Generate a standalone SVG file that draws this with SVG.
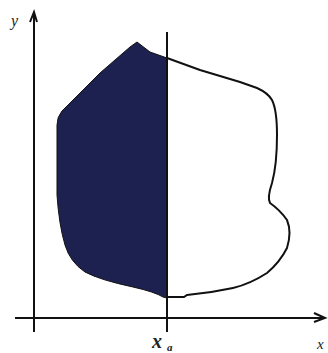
<svg xmlns="http://www.w3.org/2000/svg" width="328" height="353" viewBox="0 0 328 353">
<style>
.ax{stroke:#111;stroke-width:2;fill:none}
.lbl{font-family:"Liberation Serif",serif;font-style:italic;fill:#222}
</style>
<rect width="328" height="353" fill="#fff"/>
<g id="region-white">
<path d="M167,58 L200,70 L240,82 L257,88 Q268,93 272,100 Q277,110 277,135 Q277,165 272,183 Q267,198 270,203 Q280,210 287,220 Q292,232 287,248 Q280,262 267,273 Q250,284 233,288 Q210,293 187,295 L184,297 L167,297" fill="#fff" stroke="#111" stroke-width="2"/>
</g>
<g id="region-shaded">
<path d="M167,58 L150,52 L137,42 L130,47 L100,73 L73,100 L62,111 Q57,117 57,125 L57,195 Q59,225 65,245 Q70,262 85,272 Q100,280 133,287 Q155,292 163,297 L167,298 Z" fill="#1c2150" stroke="#111" stroke-width="1"/>
</g>
<g id="axes">
<line class="ax" x1="34" y1="12" x2="34" y2="332"/>
<path class="ax" d="M30,22 L34,12 L37,22" stroke-width="1.5"/>
<line class="ax" x1="15" y1="318" x2="324" y2="318"/>
<path class="ax" d="M314,313 L325,318 L314,322" stroke-width="1.5"/>
<line class="ax" x1="167" y1="32" x2="167" y2="332"/>
</g>
<g id="labels">
<text class="lbl" x="11" y="26" font-size="16">y</text>
<text class="lbl" x="317" y="349" font-size="15">x</text>
<text class="lbl" x="152" y="348" font-size="20" font-weight="bold">x</text>
<text class="lbl" x="167" y="351" font-size="11" font-weight="bold">a</text>
</g>
</svg>
